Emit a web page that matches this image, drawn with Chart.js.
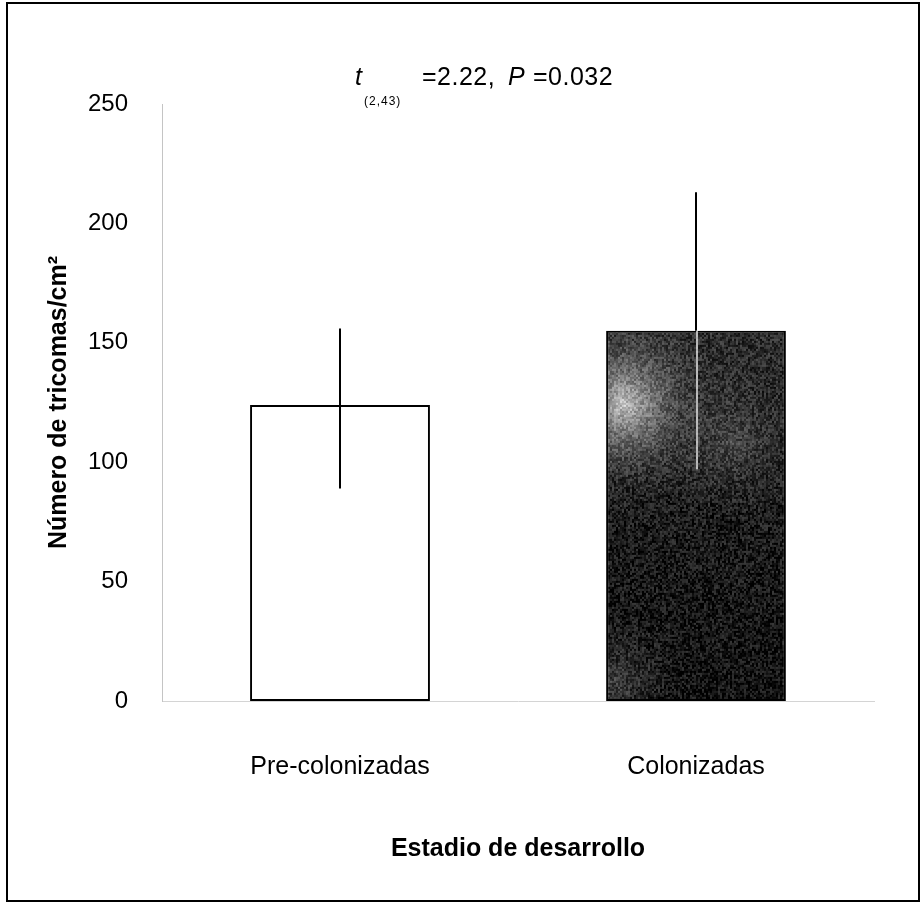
<!DOCTYPE html>
<html>
<head>
<meta charset="utf-8">
<title>Número de tricomas</title>
<script src="https://cdn.jsdelivr.net/npm/chart.js@4.4.1/dist/chart.umd.min.js"></script>
<style>
    html, body { margin: 0; padding: 0; background: #fff; }
    canvas { display: block; }
</style>
</head>
<body>
<canvas id="chart" width="924" height="907"></canvas>
<script>
// values
const stages = ['Pre-colonizadas', 'Colonizadas'];
const meanTricomas = [124, 155];
const errLow = [89, 97];
const errHigh = [156, 213];
const yTicks = [0, 50, 100, 150, 200, 250];

const FONT = '"Liberation Sans", Arial, sans-serif';
const BAR_PCT = 0.505;

// dark bar: mottled shading like the scanned original, built from the scales
function barFill(ctx) {
    if (ctx.dataIndex === 0) return '#ffffff';
    const chart = ctx.chart;
    const xs = chart.scales.x, ys = chart.scales.y;
    if (!xs || !ys || !chart.chartArea) return '#151515';
    const w = Math.round(xs.width / stages.length * BAR_PCT);
    const x0 = xs.getPixelForValue(ctx.dataIndex) - w / 2;
    const top = ys.getPixelForValue(meanTricomas[ctx.dataIndex]);
    const h = Math.max(1, Math.round(ys.getPixelForValue(0) - top));

    const off = document.createElement('canvas');
    off.width = w;
    off.height = h;
    const o = off.getContext('2d');
    const lin = o.createLinearGradient(0, 0, 0, h);
    lin.addColorStop(0, '#2e2e2e');
    lin.addColorStop(0.45, '#1c1c1c');
    lin.addColorStop(1, '#111');
    o.fillStyle = lin;
    o.fillRect(0, 0, w, h);
    const patch = (px, py, r, stops) => {
        const g = o.createRadialGradient(px, py, 0, px, py, r);
        stops.forEach(s => g.addColorStop(s[0], s[1]));
        o.fillStyle = g;
        o.fillRect(0, 0, w, h);
    };
    patch(w * 0.1, h * 0.2, w * 0.7, [[0, 'rgba(215,215,215,0.9)'], [0.25, 'rgba(150,150,150,0.65)'], [0.6, 'rgba(80,80,80,0.3)'], [1, 'rgba(40,40,40,0)']]);
    patch(w * 0.7, h * 0.3, w * 0.45, [[0, 'rgba(110,110,110,0.5)'], [1, 'rgba(60,60,60,0)']]);
    patch(w * 0.05, h * 0.95, w * 0.4, [[0, 'rgba(120,120,120,0.45)'], [1, 'rgba(60,60,60,0)']]);

    // fine grain from a fixed hash so the scan texture is repeatable
    const img = o.getImageData(0, 0, w, h);
    const d = img.data;
    for (let yy = 0; yy < h; yy += 2) {
        for (let xx = 0; xx < w; xx += 2) {
            const hsh = Math.sin(xx * 12.9898 + yy * 78.233) * 43758.5453;
            const n = (hsh - Math.floor(hsh) - 0.5) * 70;
            for (let dy = 0; dy < 2 && yy + dy < h; dy++) {
                for (let dx = 0; dx < 2 && xx + dx < w; dx++) {
                    const k = ((yy + dy) * w + xx + dx) * 4;
                    const v = Math.max(0, Math.min(255, d[k] + n));
                    d[k] = d[k + 1] = d[k + 2] = v;
                }
            }
        }
    }
    o.putImageData(img, 0, 0);

    const pat = chart.ctx.createPattern(off, 'no-repeat');
    pat.setTransform(new DOMMatrix().translate(x0, top));
    return pat;
}

const errorBars = {
    id: 'errorBars',
    afterDatasetsDraw(chart) {
        const ctx = chart.ctx;
        const y = chart.scales.y;
        chart.getDatasetMeta(0).data.forEach((bar, i) => {
            const top = y.getPixelForValue(errHigh[i]);
            const bot = y.getPixelForValue(errLow[i]);
            ctx.save();
            ctx.strokeStyle = '#000';
            ctx.lineWidth = 2;
            ctx.beginPath();
            ctx.moveTo(bar.x, top);
            ctx.lineTo(bar.x, i === 1 ? bar.y : bot);
            ctx.stroke();
            if (i === 1) {
                ctx.strokeStyle = '#e4e4e4';
                ctx.lineWidth = 1.5;
                ctx.beginPath();
                ctx.moveTo(bar.x + 1, bar.y);
                ctx.lineTo(bar.x + 1, bot);
                ctx.stroke();
            }
            ctx.restore();
        });
    }
};

const frameAndStat = {
    id: 'frameAndStat',
    beforeDraw(chart) {
        const ctx = chart.ctx;
        ctx.save();
        ctx.fillStyle = '#fff';
        ctx.fillRect(0, 0, chart.width, chart.height);
        ctx.strokeStyle = '#000';
        ctx.lineWidth = 2;
        ctx.strokeRect(7, 3, chart.width - 12, chart.height - 9);
        ctx.restore();
    },
    afterDraw(chart) {
        const ctx = chart.ctx;
        const a = chart.chartArea;
        const x = a.left + 193;
        const base = a.top - 19;
        ctx.save();
        ctx.fillStyle = '#000';
        ctx.textBaseline = 'alphabetic';
        ctx.letterSpacing = '0.5px';
        ctx.font = 'italic 25px ' + FONT;
        ctx.fillText('t', x, base);
        ctx.fillText('P', x + 153, base);
        ctx.font = '25px ' + FONT;
        ctx.fillText('=2.22,', x + 67, base);
        ctx.fillText('=0.032', x + 178, base);
        ctx.letterSpacing = '1px';
        ctx.font = '12px ' + FONT;
        ctx.fillText('(2,43)', x + 9, base + 20);
        ctx.restore();
    }
};

const data = {
    labels: stages,
    datasets: [{
        data: meanTricomas,
        backgroundColor: barFill,
        borderColor: '#000',
        borderWidth: 2,
        borderSkipped: false,
        barPercentage: BAR_PCT,
        categoryPercentage: 1.0
    }]
};

const config = {
    type: 'bar',
    data: data,
    plugins: [frameAndStat, errorBars],
    options: {
        responsive: false,
        animation: false,
        layout: {
            padding: { top: 104, right: 50, bottom: 20, left: 10 }
        },
        plugins: {
            legend: { display: false },
            tooltip: { enabled: false }
        },
        scales: {
            x: {
                grid: { display: false, drawTicks: false },
                border: { display: true, color: '#d4d4d4', dash: [2, 12] },
                ticks: {
                    color: '#000',
                    padding: 51,
                    font: { family: FONT, size: 25 }
                },
                title: {
                    display: true,
                    text: 'Estadio de desarrollo',
                    color: '#000',
                    font: { family: FONT, size: 25, weight: 'bold' },
                    padding: { top: 0, bottom: 23 }
                },
                afterFit(scale) { scale.height = 186; }
            },
            y: {
                min: 0,
                max: 250,
                afterBuildTicks(scale) {
                    scale.ticks = yTicks.map(v => ({ value: v }));
                },
                grid: { display: false, drawTicks: false },
                border: { display: true, color: '#c4c4c4', width: 1, dash: [3, 6] },
                ticks: {
                    color: '#000',
                    padding: 34,
                    font: { family: FONT, size: 24 }
                },
                title: {
                    display: true,
                    text: 'Número de tricomas/cm²',
                    color: '#000',
                    font: { family: FONT, size: 25, weight: 'bold' },
                    padding: { top: 34, bottom: 0 }
                },
                afterFit(scale) { scale.width = 152; }
            }
        }
    }
};

const ctx = document.getElementById('chart').getContext('2d');
new Chart(ctx, config);
</script>
</body>
</html>
